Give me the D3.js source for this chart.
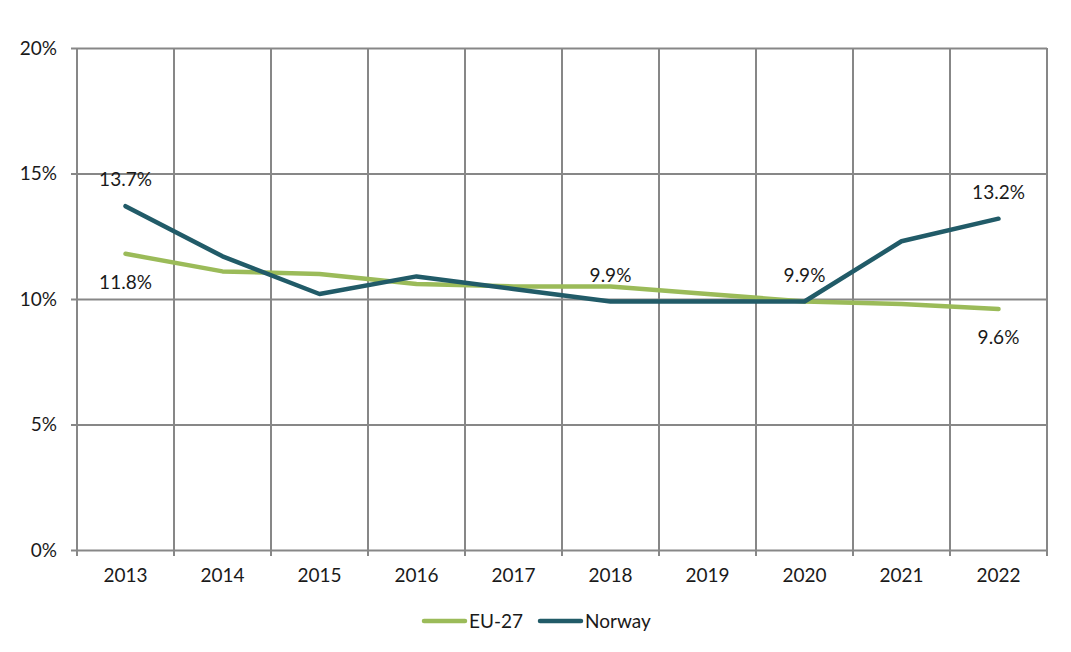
<!DOCTYPE html>
<html>
<head>
<meta charset="utf-8">
<script src="https://cdn.jsdelivr.net/npm/d3@7"></script>
<style>
  body { margin: 0; background: #fff; }
  text { font-family: Lato, "Open Sans", sans-serif; fill: #1a1a1a; }
</style>
</head>
<body>
<div id="chart"></div>
<script>
// data
const years = ['2013', '2014', '2015', '2016', '2017', '2018', '2019', '2020', '2021', '2022']
const eu27 = [11.8, 11.1, 11.0, 10.6, 10.5, 10.5, 10.2, 9.9, 9.8, 9.6]
const norway = [13.7, 11.7, 10.2, 10.9, 10.4, 9.9, 9.9, 9.9, 12.3, 13.2]
const yTicks = [0, 5, 10, 15, 20]

// which points carry a label, and where (above / below)
const labels = [
  { series: 'norway', i: 0, pos: 'above' },
  { series: 'eu27', i: 0, pos: 'below' },
  { series: 'norway', i: 5, pos: 'above' },
  { series: 'norway', i: 7, pos: 'above' },
  { series: 'norway', i: 9, pos: 'above' },
  { series: 'eu27', i: 9, pos: 'below' }
]

const width = 1071
const height = 652
const margin = { top: 48, right: 24, bottom: 102, left: 77 }
const gridColor = '#878787'
const colors = { eu27: '#9bbb59', norway: '#215b68' }
const seriesData = { eu27, norway }
const fontSize = '19px'

const svg = d3.select('#chart').append('svg')
  .attr('width', width)
  .attr('height', height)

const x = d3.scaleBand()
  .domain(years)
  .range([margin.left, width - margin.right])

const y = d3.scaleLinear()
  .domain([0, 20])
  .range([height - margin.bottom, margin.top])

// horizontal gridlines with left tick stubs
const yAxis = svg.append('g')
  .attr('transform', `translate(${margin.left},0)`)
  .call(d3.axisLeft(y)
    .tickValues(yTicks)
    .tickSize(-(width - margin.left - margin.right))
    .tickPadding(20)
    .tickFormat(d => d + '%'))
yAxis.select('.domain').remove()
yAxis.selectAll('line')
  .attr('x1', -6)
  .attr('stroke', gridColor)
  .attr('stroke-width', 2)
yAxis.selectAll('text').style('font-size', fontSize)

// vertical gridlines at category boundaries
const bounds = years.map(d => x(d)).concat([x(years[years.length - 1]) + x.bandwidth()])
svg.append('g')
  .selectAll('line')
  .data(bounds)
  .join('line')
  .attr('x1', d => d)
  .attr('x2', d => d)
  .attr('y1', margin.top)
  .attr('y2', height - margin.bottom + 6)
  .attr('stroke', gridColor)
  .attr('stroke-width', 2)

// x labels
const xAxis = svg.append('g')
  .attr('transform', `translate(0,${height - margin.bottom})`)
  .call(d3.axisBottom(x).tickSize(0).tickPadding(19))
xAxis.select('.domain').remove()
xAxis.selectAll('text').style('font-size', fontSize)

const line = d3.line()
  .x((d, i) => x(years[i]) + x.bandwidth() / 2)
  .y(d => y(d))

svg.append('path')
  .attr('d', line(eu27))
  .attr('fill', 'none')
  .attr('stroke', colors.eu27)
  .attr('stroke-width', 4.5)
  .attr('stroke-linecap', 'round')
  .attr('stroke-linejoin', 'round')

svg.append('path')
  .attr('d', line(norway))
  .attr('fill', 'none')
  .attr('stroke', colors.norway)
  .attr('stroke-width', 4.5)
  .attr('stroke-linecap', 'round')
  .attr('stroke-linejoin', 'round')

// data labels
svg.append('g')
  .selectAll('text')
  .data(labels)
  .join('text')
  .attr('x', d => x(years[d.i]) + x.bandwidth() / 2)
  .attr('y', d => y(seriesData[d.series][d.i]) + (d.pos === 'above' ? -20 : 35))
  .attr('text-anchor', 'middle')
  .style('font-size', fontSize)
  .text(d => seriesData[d.series][d.i].toFixed(1) + '%')

// legend
const legendItems = [
  { name: 'EU-27', color: colors.eu27, x: 424 },
  { name: 'Norway', color: colors.norway, x: 540 }
]
const legend = svg.append('g')
  .selectAll('g')
  .data(legendItems)
  .join('g')
  .attr('transform', d => `translate(${d.x},621)`)
legend.append('line')
  .attr('x1', 0).attr('x2', 41)
  .attr('stroke', d => d.color)
  .attr('stroke-width', 4.5)
  .attr('stroke-linecap', 'round')
legend.append('text')
  .attr('x', 45)
  .attr('dy', '0.35em')
  .style('font-size', fontSize)
  .text(d => d.name)
</script>
</body>
</html>
